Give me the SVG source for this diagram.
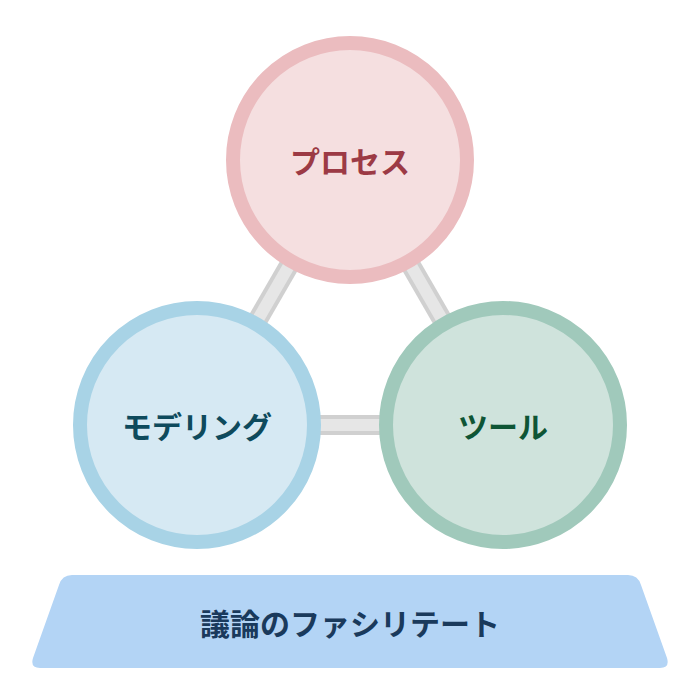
<svg xmlns="http://www.w3.org/2000/svg" width="700" height="700" viewBox="0 0 700 700">
<style>
.bar{stroke:#d0d0d0;stroke-width:20;stroke-linecap:butt}
.barin{stroke:#e6e6e6;stroke-width:12}
.lbl{font-family:"Noto Sans CJK JP","Noto Sans",sans-serif;font-weight:bold;font-size:30px;text-anchor:middle;dominant-baseline:central}
</style>
<rect width="700" height="700" fill="#fff"/>
<g id="connectors">
<line class="bar" x1="350" y1="160" x2="197" y2="425"/>
<line class="barin" x1="350" y1="160" x2="197" y2="425"/>
<line class="bar" x1="350" y1="160" x2="503" y2="425"/>
<line class="barin" x1="350" y1="160" x2="503" y2="425"/>
<line class="bar" x1="197" y1="425" x2="503" y2="425"/>
<line class="barin" x1="197" y1="425" x2="503" y2="425"/>
</g>
<g id="process">
<circle cx="350" cy="160" r="117" fill="#f5dfe0" stroke="#ebbcbf" stroke-width="14"/>
<text class="lbl" x="350" y="160" fill="#9c3a45">プロセス</text>
</g>
<g id="modeling">
<circle cx="197" cy="425" r="117" fill="#d6e9f3" stroke="#a8d3e6" stroke-width="14"/>
<text class="lbl" x="197" y="425" fill="#0e4a5c">モデリング</text>
</g>
<g id="tool">
<circle cx="503" cy="425" r="117" fill="#cfe3dc" stroke="#a0c9bb" stroke-width="14"/>
<text class="lbl" x="503" y="425" fill="#0e5535">ツール</text>
</g>
<g id="facilitation">
<path d="M72 575 H628 Q638 575 641 585 L667 658 Q670 668 660 668 H40 Q30 668 33 658 L59 585 Q62 575 72 575 Z" fill="#b3d4f5"/>
<text class="lbl" x="350" y="622" fill="#1a3a5c">議論のファシリテート</text>
</g>
</svg>
